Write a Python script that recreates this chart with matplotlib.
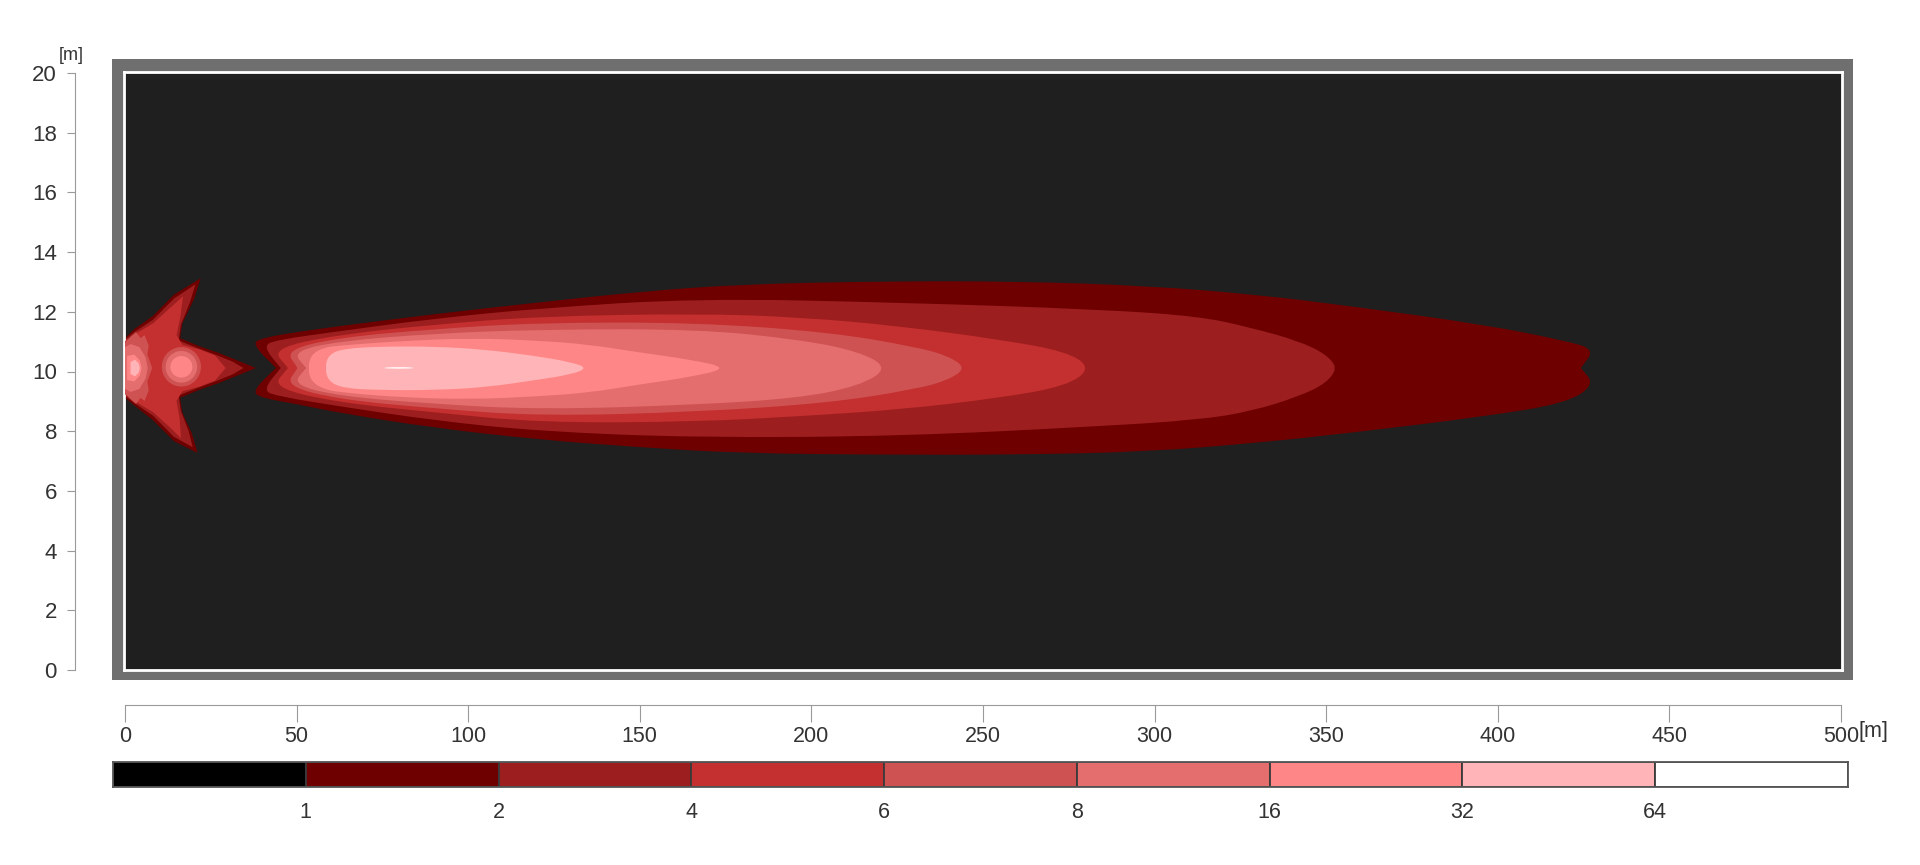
import numpy as np
import matplotlib
matplotlib.use("Agg")
import matplotlib.pyplot as plt
from matplotlib.patches import Ellipse, PathPatch
from matplotlib.path import Path

plt.rcParams['font.family'] = ['Liberation Sans', 'DejaVu Sans']

W, H = 1920, 865

# colour scale (legend below the plot)
thresholds = ['1', '2', '4', '6', '8', '16', '32', '64']
level_colors = ['#000000', '#6e0000', '#9c1e1e', '#c42f2f', '#cf5252',
                '#e46e6e', '#ff8686', '#ffb4b7', '#ffffff']
bg_color = '#1f1f1f'

x_ticks = list(range(0, 501, 50))
y_ticks = list(range(0, 21, 2))
y_center = 10.1

# main beam, one outline per level: stations, upper edge, lower edge, notches
lobe1_x = [37.3, 40, 50, 62.6, 90, 121, 150, 179, 220, 260, 298, 330, 357, 396, 420, 428]
lobe1_top = [10.9, 11.1, 11.3, 11.5, 11.9, 12.3, 12.65, 12.9, 13.0, 13.0, 12.85, 12.55, 12.17, 11.55, 11.0, 10.72]
lobe1_bot = [9.33, 9.1, 8.9, 8.6, 8.1, 7.7, 7.45, 7.25, 7.2, 7.2, 7.3, 7.6, 7.93, 8.48, 8.93, 9.55]

lobe2_x = [40.3, 45, 62.6, 90, 121, 167, 226, 284, 313, 328, 342, 350, 353]
lobe2_top = [10.85, 11.05, 11.33, 11.75, 12.1, 12.43, 12.29, 12.06, 11.83, 11.45, 11.0, 10.55, 10.1]
lobe2_bot = [9.35, 9.15, 8.82, 8.35, 7.98, 7.77, 7.82, 8.15, 8.37, 8.65, 9.15, 9.6, 10.1]

lobe3_x = [43, 62.6, 90, 121, 167, 197, 226, 255, 274.4, 281.5]
lobe3_top = [10.75, 11.22, 11.55, 11.83, 11.92, 11.8, 11.5, 11.05, 10.65, 10.1]
lobe3_bot = [9.45, 8.94, 8.62, 8.27, 8.3, 8.49, 8.71, 9.1, 9.5, 10.1]

lobe4_x = [47, 62.6, 90, 121, 167, 206, 230.7, 240, 245]
lobe4_top = [10.7, 11.12, 11.4, 11.62, 11.62, 11.29, 10.8, 10.5, 10.1]
lobe4_bot = [9.5, 9.05, 8.75, 8.49, 8.63, 8.94, 9.4, 9.7, 10.1]

lobe5_x = [49, 62.6, 90, 121, 167, 196.7, 214, 222.5]
lobe5_top = [10.65, 11.0, 11.25, 11.39, 11.4, 11.05, 10.65, 10.1]
lobe5_bot = [9.55, 9.16, 8.9, 8.71, 8.87, 9.1, 9.5, 10.1]

lobe6_x = [53.5, 54.5, 58, 62.6, 80, 101, 120, 135, 150, 165, 176]
lobe6_top = [10.1, 10.55, 10.78, 10.85, 11.0, 11.1, 11.02, 10.89, 10.62, 10.38, 10.1]
lobe6_bot = [10.1, 9.65, 9.4, 9.29, 9.12, 9.05, 9.15, 9.27, 9.55, 9.8, 10.1]

lobe7_x = [58.5, 59.5, 64, 75, 90, 105, 120, 130, 135]
lobe7_top = [10.1, 10.55, 10.75, 10.82, 10.82, 10.72, 10.5, 10.3, 10.1]
lobe7_bot = [10.1, 9.65, 9.42, 9.36, 9.36, 9.45, 9.7, 9.88, 10.1]

lobe8_x = [74, 80, 86]
lobe8_top = [10.1, 10.14, 10.1]
lobe8_bot = [10.1, 10.07, 10.1]

left_notch = [44.2, 45.6, 47.7, 50.5, 53, None, None, None]
right_notch = [424, 351, None, None, None, None, None, None]

# near field "arrow" shape close to the lamp
near1_x = [0.3, 3, 8.3, 14.6, 22.3, 20.4, 17.0, 16.3, 21.9, 27.7, 33.5, 38.4,
           33.5, 27.7, 21.9, 16.3, 17.0, 19.8, 21.4, 14.6, 8.3, 3, 0.3]
near1_y = [11.1, 11.4, 11.83, 12.56, 13.1, 12.4, 11.6, 11.1, 10.83, 10.6, 10.33, 10.1,
           9.87, 9.6, 9.37, 9.1, 8.6, 7.9, 7.26, 7.65, 8.37, 8.85, 9.1]
near2_x = [0.3, 3, 8.5, 14.5, 20.8, 19.2, 16.6, 15.9, 21.6, 27.2, 31.5, 34.8,
           31.5, 27.2, 21.6, 15.9, 16.6, 18.8, 20.0, 14.5, 8.5, 3, 0.3]
near2_y = [11.05, 11.3, 11.72, 12.42, 12.9, 12.3, 11.55, 11.02, 10.76, 10.52, 10.32, 10.1,
           9.88, 9.68, 9.44, 9.18, 8.65, 8.0, 7.45, 7.8, 8.5, 8.93, 9.17]
near3_x = [0.3, 3, 8.5, 13.5, 17.2, 16.4, 15.3, 17.0, 22.0, 26.5, 29.6,
           26.5, 22.0, 17.0, 15.3, 16.2, 16.6, 13.5, 8.5, 3, 0.3]
near3_y = [11.0, 11.22, 11.6, 12.12, 12.5, 11.8, 11.2, 10.88, 10.72, 10.52, 10.1,
           9.68, 9.48, 9.32, 9.0, 8.4, 7.75, 8.1, 8.62, 9.0, 9.22]
near4_x = [0.3, 2.0, 3.5, 4.8, 6.0, 7.2, 6.8, 8.2, 6.8, 7.2, 6.0, 4.8, 3.5, 2.0, 0.3]
near4_y = [10.95, 11.15, 11.3, 11.1, 11.2, 10.85, 10.55, 10.1, 9.65, 9.35, 9.0, 9.1, 8.9, 9.05, 9.25]
near5_x = [0.3, 2.0, 4.5, 6.3, 6.9, 6.3, 4.5, 2.0, 0.3]
near5_y = [10.8, 10.9, 10.8, 10.45, 10.1, 9.75, 9.4, 9.3, 9.4]
near6_x = [0.9, 3.0, 4.6, 5.1, 4.6, 3.0, 0.9]
near6_y = [10.5, 10.55, 10.35, 10.1, 9.85, 9.65, 9.7]
near7_x = [1.9, 3.2, 4.3, 4.6, 4.3, 3.2, 1.9]
near7_y = [10.3, 10.38, 10.25, 10.1, 9.95, 9.82, 9.9]

# round spot in the near field
spot_x, spot_y = 16.7, 10.14
spot_levels = [4, 5, 6]
spot_w = [11.4, 9.2, 6.4]
spot_h = [1.32, 1.06, 0.72]


def px(x0, y0, x1, y1):
    return [x0 / W, 1 - y1 / H, (x1 - x0) / W, (y1 - y0) / H]


def outline(xs, top, bot, lnotch, rnotch):
    # notch points are doubled so the smoothed curve keeps a sharp corner there
    pts = []
    if lnotch is not None:
        pts += [(lnotch, y_center)] * 2
    pts += list(zip(xs, top))
    if rnotch is not None:
        pts += [(rnotch, y_center)] * 2
    lower = list(zip(xs[::-1], bot[::-1]))
    if lower[0] == pts[-1]:
        lower = lower[1:]
    if lower and lower[-1] == pts[0]:
        lower = lower[:-1]
    return np.array(pts + lower, dtype=float)


def smooth_path(pts):
    # closed quadratic spline through the edge midpoints
    mids = (pts + np.roll(pts, -1, axis=0)) / 2
    verts = [mids[-1]]
    codes = [Path.MOVETO]
    for p, m in zip(pts, mids):
        verts += [p, m]
        codes += [Path.CURVE3, Path.CURVE3]
    return Path(verts, codes)


fig = plt.figure(figsize=(W / 100, H / 100), dpi=100)

# grey frame around the field
frame = fig.add_axes(px(112, 59, 1853, 680))
frame.set_facecolor('#6f6f6f')
frame.set_xticks([])
frame.set_yticks([])
for s in frame.spines.values():
    s.set_visible(False)

ax = fig.add_axes(px(124, 72, 1842, 670))
ax.set_facecolor(bg_color)
ax.set_xlim(0, 500)
ax.set_ylim(0, 20)
ax.set_xticks([])
ax.set_yticks([])
for s in ax.spines.values():
    s.set_color('white')
    s.set_linewidth(2)

lobes = [(lobe1_x, lobe1_top, lobe1_bot), (lobe2_x, lobe2_top, lobe2_bot),
         (lobe3_x, lobe3_top, lobe3_bot), (lobe4_x, lobe4_top, lobe4_bot),
         (lobe5_x, lobe5_top, lobe5_bot), (lobe6_x, lobe6_top, lobe6_bot),
         (lobe7_x, lobe7_top, lobe7_bot), (lobe8_x, lobe8_top, lobe8_bot)]
nears = [(near1_x, near1_y), (near2_x, near2_y), (near3_x, near3_y), (near4_x, near4_y),
         (near5_x, near5_y), (near6_x, near6_y), (near7_x, near7_y)]

for i, (xs, top, bot) in enumerate(lobes):
    lvl = i + 1
    c = level_colors[lvl]
    pts = outline(xs, top, bot, left_notch[i], right_notch[i])
    ax.add_patch(PathPatch(smooth_path(pts), facecolor=c, lw=0, zorder=lvl))
    if i < len(nears):
        ax.fill(nears[i][0], nears[i][1], color=c, lw=0, zorder=lvl)
    if lvl in spot_levels:
        k = spot_levels.index(lvl)
        ax.add_patch(Ellipse((spot_x, spot_y), spot_w[k], spot_h[k], color=c,
                             lw=0, zorder=lvl))

# y axis drawn apart on the left
yax = fig.add_axes(px(75, 73, 76, 670))
yax.patch.set_visible(False)
yax.set_ylim(0, 20)
yax.set_yticks(y_ticks)
yax.set_xticks([])
for k in ['top', 'right', 'bottom']:
    yax.spines[k].set_visible(False)
yax.spines['left'].set_color('#9a9a9a')
yax.tick_params(axis='y', length=6, color='#9a9a9a', labelcolor='#333333',
                labelsize=16, pad=7)
fig.text(71 / W, 1 - 55 / H, '[m]', ha='center', va='center', fontsize=13, color='#333333')

# x axis drawn apart below
xax = fig.add_axes(px(125, 700, 1841, 705))
xax.patch.set_visible(False)
xax.set_xlim(0, 500)
xax.set_xticks(x_ticks)
xax.set_yticks([])
for k in ['top', 'right', 'left']:
    xax.spines[k].set_visible(False)
xax.spines['bottom'].set_color('#9a9a9a')
xax.tick_params(axis='x', length=12, color='#9a9a9a', labelcolor='#333333',
                labelsize=15.5, pad=3)
fig.text(1858 / W, 1 - 731 / H, '[m]', ha='left', va='center', fontsize=15.5, color='#333333')

# colour legend
cax = fig.add_axes(px(113, 762, 1848, 787))
cax.bar(np.arange(len(level_colors)) + 0.5, 1, width=1, color=level_colors,
        edgecolor='#3a3a3a', linewidth=1.3)
cax.set_xlim(0, len(level_colors))
cax.set_ylim(0, 1)
cax.set_yticks([])
cax.set_xticks(np.arange(1, len(level_colors)))
cax.set_xticklabels(thresholds)
cax.tick_params(axis='x', length=0, labelsize=15.5, labelcolor='#333333', pad=11)
for s in cax.spines.values():
    s.set_color('#555555')
    s.set_linewidth(1.3)

fig.savefig('out.png', dpi=100)
